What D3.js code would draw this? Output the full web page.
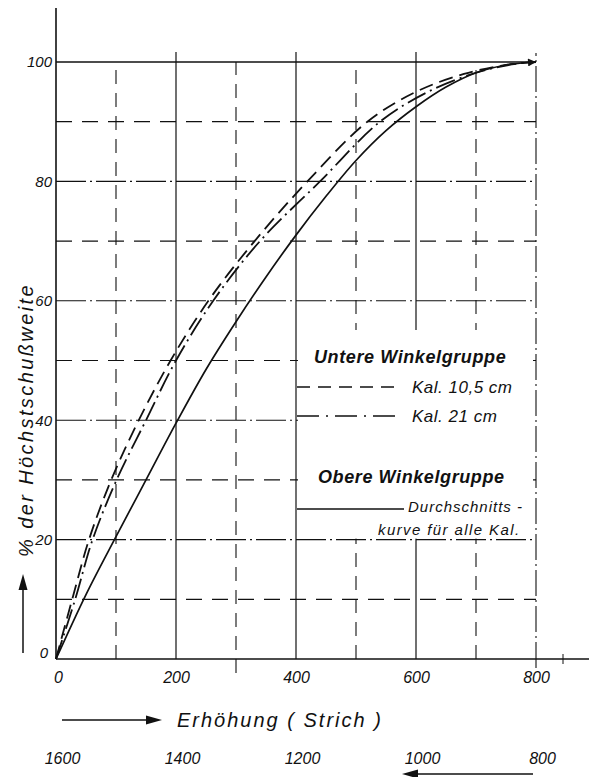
<!DOCTYPE html>
<html><head><meta charset="utf-8">
<script src="https://cdn.jsdelivr.net/npm/d3@7"></script>
<style>html,body{margin:0;padding:0;background:#fff;}svg{display:block;}</style>
</head><body>
<svg id="c" width="589" height="777"></svg>
<script>
// ---- data ----
const xTicks = [0, 200, 400, 600, 800];
const yTicks = [0, 20, 40, 60, 80, 100];
const secondaryLabels = ["1600", "1400", "1200", "1000", "800"];
// Durchschnittskurve (obere Winkelgruppe)
const solidX = [0, 50, 100, 150, 200, 250, 300, 350, 400, 450, 500, 550, 600, 650, 700, 750, 800];
const solidY = [0, 10.8, 20.5, 30, 39.5, 48.5, 56.5, 64, 71, 77.5, 83.5, 88.5, 92.5, 95.8, 98.2, 99.5, 100];
// Kal. 10,5 cm (untere Winkelgruppe)
const k105X = [0, 27, 55, 92, 138, 191, 254, 331, 419, 519, 600, 680, 750, 800];
const k105Y = [0, 10, 20, 30, 40, 50, 60, 70, 80, 90, 95, 98, 99.5, 100];
// Kal. 21 cm (untere Winkelgruppe)
const k21X = [0, 32, 61, 101, 150, 200, 262, 340, 440, 540, 620, 700, 760, 800];
const k21Y = [0, 10, 20, 30, 40, 50, 60, 70, 80, 90, 95, 98.2, 99.6, 100];

const svg = d3.select("#c");
const x = d3.scaleLinear().domain([0, 800]).range([56, 536]);
const y = d3.scaleLinear().domain([0, 100]).range([659, 62]);
const font = "'Liberation Sans', Arial, sans-serif";
const ink = "#111";

// ---- grid ----
const g = svg.append("g");
[100, 300, 500, 700].forEach(v => {
  g.append("line").attr("x1", x(v)).attr("x2", x(v)).attr("y1", y(0) + (v === 300 ? 14 : 0)).attr("y2", y(100))
    .attr("stroke", ink).attr("stroke-width", 1.1).attr("stroke-dasharray", "14,9");
});
[200, 400, 600].forEach(v => {
  g.append("line").attr("x1", x(v)).attr("x2", x(v)).attr("y1", y(0)).attr("y2", y(100) - 10)
    .attr("stroke", ink).attr("stroke-width", 1.2);
});
g.append("line").attr("x1", x(800)).attr("x2", x(800)).attr("y1", y(0) + 9).attr("y2", y(100) - 9)
  .attr("stroke", ink).attr("stroke-width", 1.1).attr("stroke-dasharray", "26,4,2,4");
[10, 30, 50, 70, 90].forEach(v => {
  g.append("line").attr("x1", x(0)).attr("x2", x(800)).attr("y1", y(v)).attr("y2", y(v))
    .attr("stroke", ink).attr("stroke-width", 1.2).attr("stroke-dasharray", "16,10");
});
[20, 40, 60, 80].forEach(v => {
  g.append("line").attr("x1", x(0)).attr("x2", x(800)).attr("y1", y(v)).attr("y2", y(v))
    .attr("stroke", ink).attr("stroke-width", 1.1).attr("stroke-dasharray", "30,4,2,4");
});
g.append("line").attr("x1", x(0)).attr("x2", x(800)).attr("y1", y(100)).attr("y2", y(100))
  .attr("stroke", ink).attr("stroke-width", 1.3);
g.append("line").attr("x1", x(0)).attr("x2", x(0)).attr("y1", y(0)).attr("y2", 8)
  .attr("stroke", ink).attr("stroke-width", 1.6);
g.append("line").attr("x1", x(0)).attr("x2", 589).attr("y1", y(0)).attr("y2", y(0))
  .attr("stroke", ink).attr("stroke-width", 1.6);
g.append("line").attr("x1", 563).attr("x2", 563).attr("y1", y(0) - 5).attr("y2", y(0) + 5)
  .attr("stroke", ink).attr("stroke-width", 1);

// legend background (hides grid)
svg.append("rect").attr("x", x(400) + 2).attr("y", 330).attr("width", x(800) - x(400) - 5).attr("height", y(20) - 331)
  .attr("fill", "#fff");

// ---- curves ----
const line = d3.line().x(d => x(d[0])).y(d => y(d[1])).curve(d3.curveCatmullRom.alpha(0.5));
const defs = svg.append("defs");
defs.append("marker").attr("id", "ah").attr("viewBox", "0 0 10 10").attr("refX", 10).attr("refY", 5)
  .attr("markerWidth", 30).attr("markerHeight", 8).attr("markerUnits", "userSpaceOnUse").attr("orient", "auto")
  .append("path").attr("d", "M0,0 L10,5 L0,10 Z").attr("fill", ink);

const zip = (a, b) => a.map((v, i) => [v, b[i]]);
svg.append("path").datum(zip(k105X, k105Y)).attr("d", line).attr("fill", "none")
  .attr("stroke", ink).attr("stroke-width", 1.8).attr("stroke-dasharray", "14,7");
svg.append("path").datum(zip(k21X, k21Y)).attr("d", line).attr("fill", "none")
  .attr("stroke", ink).attr("stroke-width", 1.8).attr("stroke-dasharray", "20,5,2,5");
svg.append("path").datum(zip(solidX, solidY)).attr("d", line).attr("fill", "none")
  .attr("stroke", ink).attr("stroke-width", 1.7).attr("marker-end", "url(#ah)");

// ---- tick labels ----
const xAxis = d3.axisBottom(x).tickValues(xTicks).tickSize(0).tickPadding(0);
const xa = svg.append("g").attr("transform", `translate(0,${y(0) + 10})`).call(xAxis);
xa.select(".domain").remove();
xa.selectAll("text").attr("font-family", font).attr("font-style", "italic").attr("font-size", 16)
  .attr("fill", ink).attr("dy", "0.9em").attr("dx", d => d === 0 ? 2 : 0);

const yAxis = d3.axisLeft(y).tickValues(yTicks).tickSize(0).tickPadding(4);
const ya = svg.append("g").attr("transform", `translate(${x(0)},0)`).call(yAxis);
ya.select(".domain").remove();
ya.selectAll("text").attr("font-family", font).attr("font-style", "italic").attr("font-size", 15)
  .attr("fill", ink).attr("dy", d => d === 0 ? "-0.1em" : "0.32em").attr("dx", d => d === 0 ? -4 : 0);

const sec = d3.axisBottom(x).tickValues(xTicks).tickSize(0).tickFormat((d, i) => secondaryLabels[i]);
const sa = svg.append("g").attr("transform", "translate(6,750)").call(sec);
sa.select(".domain").remove();
sa.selectAll("text").attr("font-family", font).attr("font-style", "italic").attr("font-size", 16)
  .attr("fill", ink);

// ---- axis titles ----
svg.append("line").attr("x1", 62).attr("x2", 150).attr("y1", 720).attr("y2", 720).attr("stroke", ink).attr("stroke-width", 1.5);
svg.append("path").attr("d", "M146,715.5 L162,720 L146,724.5 Z").attr("fill", ink);
svg.append("text").attr("x", 177).attr("y", 727).attr("font-family", font).attr("font-style", "italic")
  .attr("font-size", 20).attr("letter-spacing", 2).attr("fill", ink).text("Erhöhung  ( Strich )");

svg.append("line").attr("x1", 414).attr("x2", 533).attr("y1", 774).attr("y2", 774).attr("stroke", ink).attr("stroke-width", 1.5);
svg.append("path").attr("d", "M418,769.5 L402,774 L418,778.5 Z").attr("fill", ink);

svg.append("text").attr("transform", "translate(33,420) rotate(-90)").attr("text-anchor", "middle")
  .attr("font-family", font).attr("font-style", "italic").attr("font-size", 20).attr("letter-spacing", 2.4)
  .attr("fill", ink).text("% der Höchstschußweite");
svg.append("line").attr("x1", 23).attr("x2", 23).attr("y1", 653).attr("y2", 588).attr("stroke", ink).attr("stroke-width", 1.5);
svg.append("path").attr("d", "M18.5,590 L23,574 L27.5,590 Z").attr("fill", ink);

// ---- legend ----
const lg = svg.append("g").attr("font-family", font).attr("font-style", "italic").attr("fill", ink);
lg.append("text").attr("x", 314).attr("y", 363).attr("font-size", 18).attr("font-weight", "bold").attr("letter-spacing", 0.6).text("Untere Winkelgruppe");
lg.append("line").attr("x1", 297).attr("x2", 400).attr("y1", 387).attr("y2", 387).attr("stroke", ink)
  .attr("stroke-width", 1.6).attr("stroke-dasharray", "13,8");
lg.append("text").attr("x", 412).attr("y", 393).attr("font-size", 17).attr("letter-spacing", 0.5).text("Kal. 10,5 cm");
lg.append("line").attr("x1", 297).attr("x2", 400).attr("y1", 416).attr("y2", 416).attr("stroke", ink)
  .attr("stroke-width", 1.6).attr("stroke-dasharray", "22,7,2,7");
lg.append("text").attr("x", 412).attr("y", 422).attr("font-size", 17).attr("letter-spacing", 0.5).text("Kal. 21 cm");
lg.append("text").attr("x", 318).attr("y", 483).attr("font-size", 18).attr("font-weight", "bold").attr("letter-spacing", 0.6).text("Obere Winkelgruppe");
lg.append("line").attr("x1", 297).attr("x2", 404).attr("y1", 509).attr("y2", 509).attr("stroke", ink).attr("stroke-width", 1.6);
lg.append("text").attr("x", 408).attr("y", 512).attr("font-size", 15).attr("letter-spacing", 1).text("Durchschnitts -");
lg.append("text").attr("x", 378).attr("y", 535).attr("font-size", 15).attr("letter-spacing", 1.4).text("kurve für alle Kal.");
</script>
</body></html>
